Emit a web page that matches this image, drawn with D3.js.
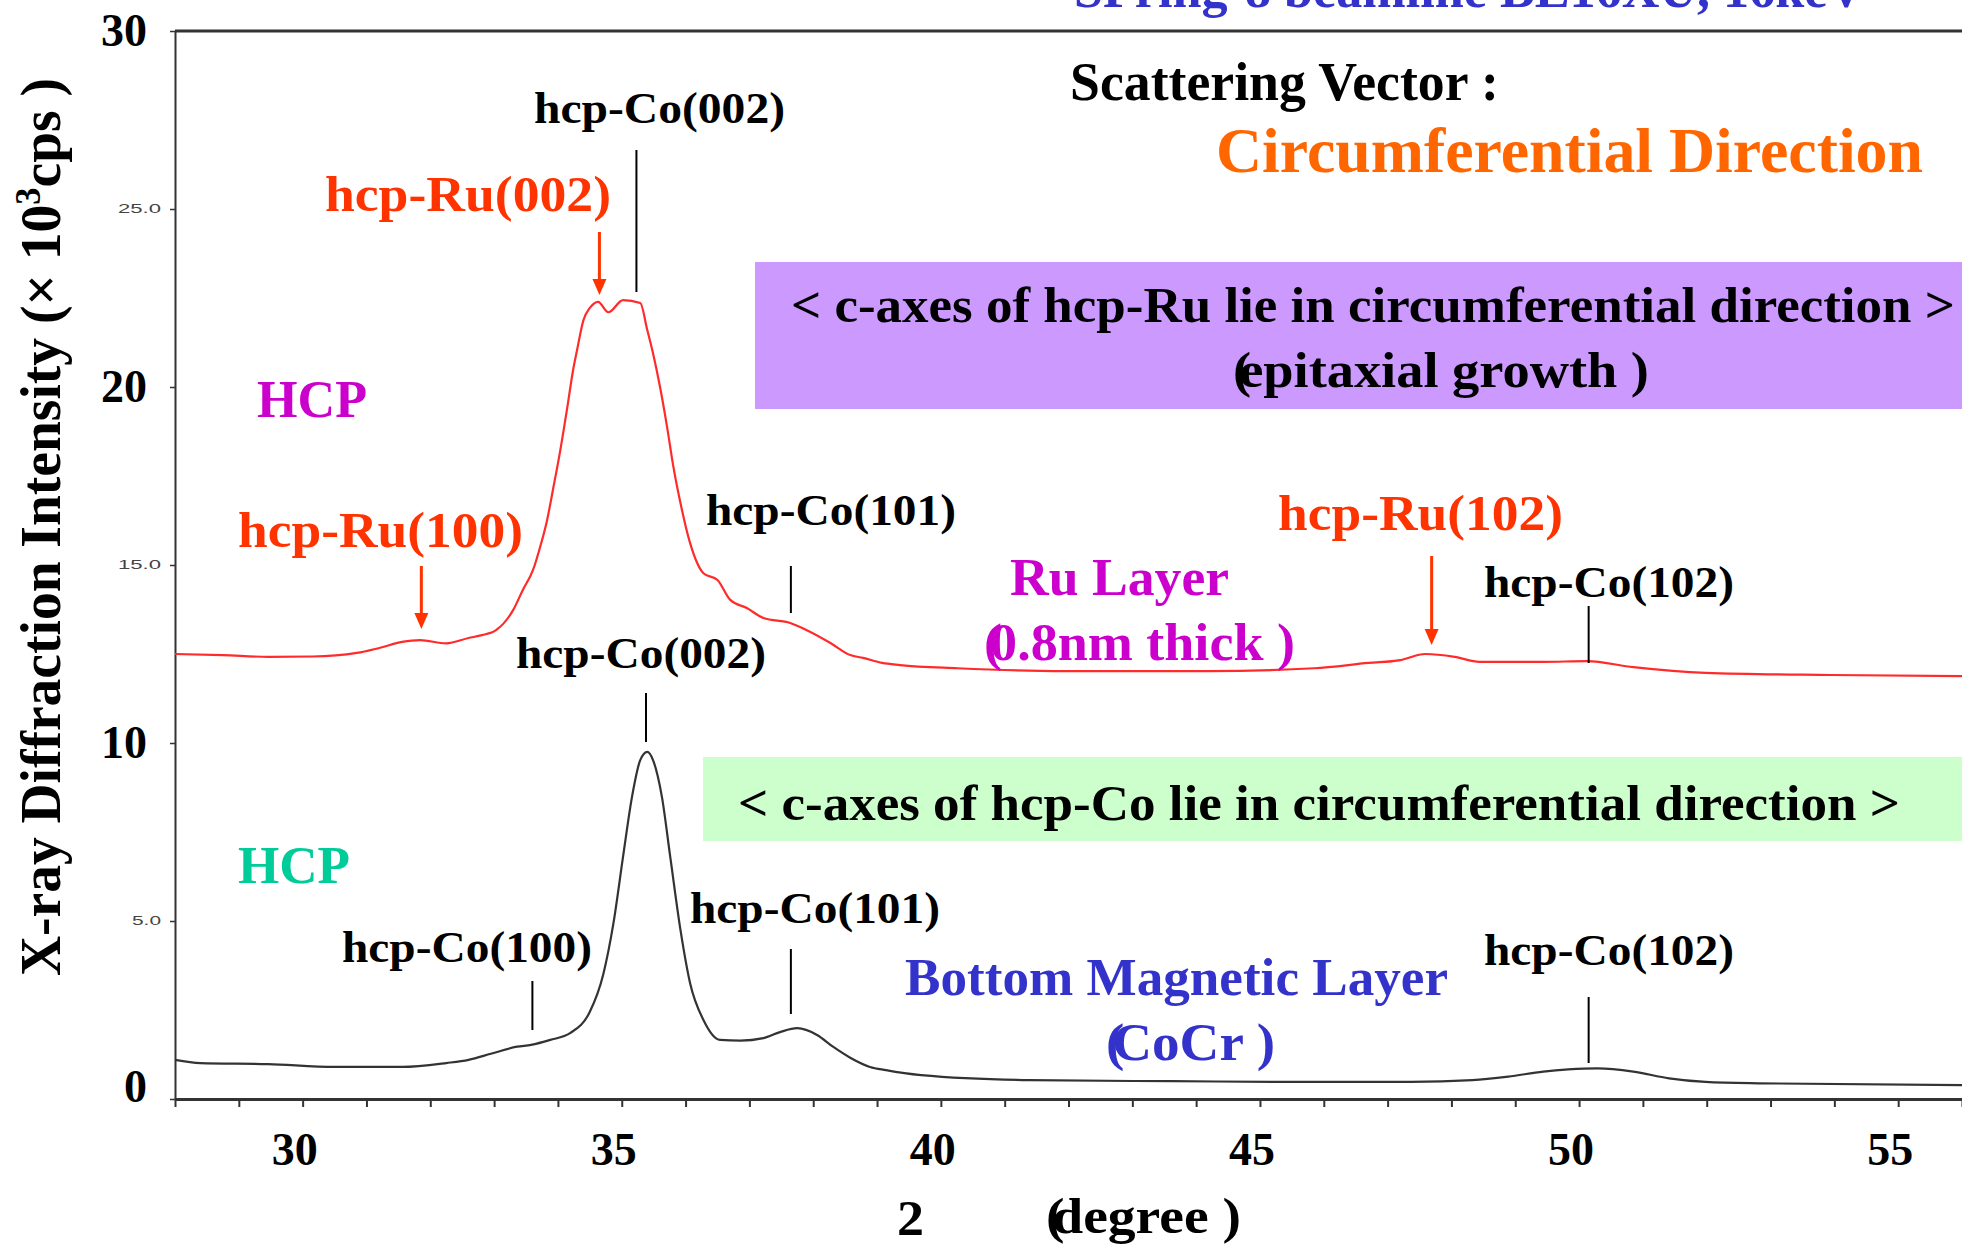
<html>
<head>
  <script src="https://d3js.org/d3.v7.min.js"></script>
  <style>
    body { margin: 0; background: #fff; overflow: hidden; }
    text { font-family: "Liberation Serif", "Times New Roman", serif; font-weight: bold; }
  </style>
</head>
<body>
<div id="chart"></div>
<script>
// ---- data (2theta in degree, intensity in 10^3 cps) ----
var ruX = [28.0, 28.75, 29.46, 30.15, 30.85, 31.2, 31.56, 31.84, 32.25, 32.6, 32.81, 33.03, 33.3, 33.45, 33.61, 33.72, 33.83, 33.93, 34.03, 34.14, 34.24, 34.3, 34.4, 34.5, 34.63, 34.79, 35.02, 35.29, 35.4, 35.49, 35.6, 35.71, 35.81, 35.92, 36.07, 36.28, 36.5, 36.7, 36.96, 37.22, 37.64, 37.9, 38.27, 38.58, 38.78, 39.08, 39.36, 40.26, 41.93, 44.18, 45.85, 46.7, 47.2, 47.59, 48.05, 48.44, 49.44, 50.12, 50.85, 51.98, 53.94, 56.0];
var ruY = [12.5, 12.47, 12.42, 12.43, 12.53, 12.67, 12.84, 12.89, 12.8, 12.95, 13.03, 13.17, 13.74, 14.3, 14.86, 15.5, 16.26, 17.19, 18.15, 19.35, 20.5, 21.04, 21.88, 22.22, 22.39, 22.1, 22.44, 22.36, 21.6, 20.95, 20.0, 18.88, 17.75, 16.74, 15.62, 14.77, 14.58, 14.02, 13.79, 13.51, 13.37, 13.17, 12.81, 12.47, 12.39, 12.25, 12.19, 12.1, 12.02, 12.02, 12.1, 12.25, 12.33, 12.5, 12.42, 12.28, 12.28, 12.3, 12.13, 11.97, 11.91, 11.88];

var coX = [28.0, 28.4, 29.46, 30.5, 31.56, 32.25, 32.6, 32.95, 33.36, 33.58, 33.88, 34.19, 34.5, 34.71, 34.87, 35.02, 35.16, 35.29, 35.4, 35.49, 35.63, 35.76, 35.92, 36.07, 36.28, 36.54, 36.86, 37.22, 37.48, 37.75, 38.06, 38.31, 38.58, 38.89, 39.14, 39.69, 41.39, 43.61, 45.85, 47.36, 48.33, 48.89, 49.44, 49.83, 50.29, 50.85, 51.41, 51.98, 52.81, 56.0];
var coY = [1.1, 1.01, 0.98, 0.9, 0.9, 1.01, 1.1, 1.27, 1.47, 1.52, 1.66, 1.85, 2.45, 3.5, 4.94, 6.8, 8.48, 9.52, 9.75, 9.52, 8.48, 6.8, 4.75, 3.26, 2.22, 1.66, 1.64, 1.71, 1.88, 1.99, 1.8, 1.47, 1.16, 0.9, 0.81, 0.67, 0.53, 0.5, 0.48, 0.48, 0.53, 0.63, 0.77, 0.83, 0.86, 0.77, 0.58, 0.48, 0.44, 0.39];

// tick labels
var xMajor = [30, 35, 40, 45, 50, 55];
var yMajor = [0, 10, 20, 30];
var yMinor = [25, 15, 5];
var yMinorText = ["25.0", "15.0", "5.0"];

// peak annotations (degree)
var ruPeakNames = ["hcp-Ru(002)", "hcp-Ru(100)", "hcp-Ru(102)"];
var ruPeakPos = [34.65, 31.86, 47.69];
var coTopNames = ["hcp-Co(002)", "hcp-Co(101)", "hcp-Co(102)"];
var coTopPos = [35.23, 37.65, 50.15];
var coBotNames = ["hcp-Co(100)", "hcp-Co(002)", "hcp-Co(101)", "hcp-Co(102)"];
var coBotPos = [33.6, 35.38, 37.65, 50.15];

// ---- layout ----
var W = 1962, H = 1246;
var svg = d3.select("#chart").append("svg").attr("width", W).attr("height", H);

var x = d3.scaleLinear().domain([28, 56]).range([175, 1962]);
var y = d3.scaleLinear().domain([0, 30]).range([1099, 31]);

// helper: text placed by left x, width and baseline
function label(t, x0, w, base, size, color) {
  return svg.append("text").attr("x", x0).attr("y", base)
    .attr("font-size", size).attr("fill", color)
    .attr("textLength", w).attr("lengthAdjust", "spacingAndGlyphs")
    .text(t);
}
// same, but the opening bracket overlaps the next letter as in the slide
function plabel(t, x0, w, base, size, color) {
  var el = svg.append("text").attr("x", x0).attr("y", base)
    .attr("font-size", size).attr("fill", color)
    .attr("textLength", w).attr("lengthAdjust", "spacingAndGlyphs");
  el.append("tspan").text("(");
  el.append("tspan").attr("dx", -size * 0.22).text(t.slice(1));
  return el;
}

// coloured boxes
svg.append("rect").attr("x", 755).attr("y", 262).attr("width", W - 755).attr("height", 147).attr("fill", "#cc99ff");
svg.append("rect").attr("x", 703).attr("y", 757).attr("width", W - 703).attr("height", 84).attr("fill", "#ccffcc");

// frame: top line, axes
svg.append("line").attr("x1", 175).attr("x2", W).attr("y1", 31).attr("y2", 31)
  .attr("stroke", "#333").attr("stroke-width", 3);

var xAxis = svg.append("g").attr("transform", "translate(0," + y(0) + ")")
  .call(d3.axisBottom(x).tickValues(d3.range(28, 57)).tickSize(8).tickSizeOuter(0).tickFormat(""));
xAxis.select(".domain").attr("stroke", "#333").attr("stroke-width", 3);
xAxis.selectAll(".tick line").attr("stroke", "#333").attr("stroke-width", 2);

var yAxis = svg.append("g").attr("transform", "translate(" + x(28) + ",0)")
  .call(d3.axisLeft(y).tickValues(d3.range(0, 31, 5)).tickSize(5).tickSizeOuter(0).tickFormat(""));
yAxis.select(".domain").attr("stroke", "#333").attr("stroke-width", 2);
yAxis.selectAll(".tick line").attr("stroke", "#333").attr("stroke-width", 1.5);

// big tick labels
svg.selectAll(".xlab").data(xMajor).enter().append("text")
  .attr("x", function(d) { return x(d) - 8; }).attr("y", 1165)
  .attr("text-anchor", "middle").attr("font-size", 46).attr("fill", "#000")
  .text(function(d) { return d; });

svg.selectAll(".ylab").data(yMajor).enter().append("text")
  .attr("x", 147).attr("y", function(d) { return Math.min(y(d) + 15, 1102); })
  .attr("text-anchor", "end").attr("font-size", 46).attr("fill", "#000")
  .text(function(d) { return d; });

// small instrument labels, stretched like the pasted original
svg.selectAll(".ysmall").data(yMinor).enter().append("text")
  .attr("x", 161).attr("y", function(d) { return y(d) + 4; })
  .attr("text-anchor", "end").attr("font-size", 13).attr("fill", "#444")
  .attr("textLength", function(d, i) { return yMinorText[i].length > 3 ? 43 : 29; })
  .attr("lengthAdjust", "spacingAndGlyphs")
  .style("font-family", "'Liberation Sans', Arial, sans-serif").style("font-weight", "normal")
  .text(function(d, i) { return yMinorText[i]; });

// axis titles
var yt = svg.append("text").attr("transform", "translate(60,527) rotate(-90)")
  .attr("text-anchor", "middle").attr("font-size", 58).attr("fill", "#000")
  .attr("textLength", 898).attr("lengthAdjust", "spacingAndGlyphs");
yt.append("tspan").text("X-ray  Diffraction  Intensity  (× 10");
yt.append("tspan").attr("font-size", 36).attr("dy", -20).text("3");
yt.append("tspan").attr("dy", 20).text("cps )");

label("2", 897, 27, 1235, 50, "#000");
plabel("(degree )", 1046, 195, 1233, 50, "#000");

// curves
var line = d3.line().x(function(d) { return x(d[0]); }).y(function(d) { return y(d[1]); })
  .curve(d3.curveMonotoneX);
svg.append("path").datum(d3.zip(ruX, ruY)).attr("d", line)
  .attr("fill", "none").attr("stroke", "#ff2b2b").attr("stroke-width", 2.2);
svg.append("path").datum(d3.zip(coX, coY)).attr("d", line)
  .attr("fill", "none").attr("stroke", "#333").attr("stroke-width", 2.2);

// red arrows for Ru peaks
var ruArrow = [[232, 295], [566, 629], [556, 645]];
var ruText = [[325, 286, 211], [238, 285, 547], [1278, 285, 530]];
ruPeakPos.forEach(function(p, i) {
  var ax = x(p), top = ruArrow[i][0], tip = ruArrow[i][1];
  svg.append("line").attr("x1", ax).attr("x2", ax).attr("y1", top).attr("y2", tip - 12)
    .attr("stroke", "#ff3300").attr("stroke-width", 3);
  svg.append("path").attr("d", "M" + (ax - 7) + "," + (tip - 16) + "L" + (ax + 7) + "," + (tip - 16) + "L" + ax + "," + tip + "Z")
    .attr("fill", "#ff3300");
  label(ruPeakNames[i], ruText[i][0], ruText[i][1], ruText[i][2], 50, "#ff3300");
});

// black marker lines for Co peaks
var coTopMark = [[150, 292], [566, 613], [606, 663]];
var coTopText = [[534, 251, 123], [706, 250, 525], [1484, 250, 597]];
var coBotMark = [[981, 1030], [693, 742], [949, 1014], [997, 1063]];
var coBotText = [[342, 250, 962], [516, 250, 668], [690, 250, 923], [1484, 250, 965]];
function coNotes(names, pos, mark, txt) {
  names.forEach(function(n, i) {
    svg.append("line").attr("x1", x(pos[i])).attr("x2", x(pos[i]))
      .attr("y1", mark[i][0]).attr("y2", mark[i][1]).attr("stroke", "#000").attr("stroke-width", 2);
    label(n, txt[i][0], txt[i][1], txt[i][2], 44, "#000");
  });
}
coNotes(coTopNames, coTopPos, coTopMark, coTopText);
coNotes(coBotNames, coBotPos, coBotMark, coBotText);

// other texts (the title line is cut by the top edge, as in the original slide)
label("SPring-8 beamline BL16XU, 16keV", 1074, 791, 7, 52, "#3333cc");
label("Scattering Vector :", 1070, 429, 100, 54, "#000");
label("Circumferential Direction", 1216, 707, 172, 64, "#ff6600");
label("< c-axes of hcp-Ru lie in circumferential direction >", 791, 1164, 322, 50, "#000");
plabel("(epitaxial growth )", 1233, 416, 387, 50, "#000");
label("< c-axes of hcp-Co lie in circumferential direction >", 738, 1162, 820, 50, "#000");
label("HCP", 257, 110, 417, 52, "#cc00cc");
label("HCP", 238, 112, 883, 52, "#00cc99");
label("Ru Layer", 1010, 219, 595, 52, "#cc00cc");
plabel("(0.8nm thick )", 984, 311, 660, 52, "#cc00cc");
label("Bottom Magnetic Layer", 905, 543, 995, 52, "#3333cc");
plabel("(CoCr )", 1106, 169, 1060, 52, "#3333cc");
</script>
</body>
</html>
